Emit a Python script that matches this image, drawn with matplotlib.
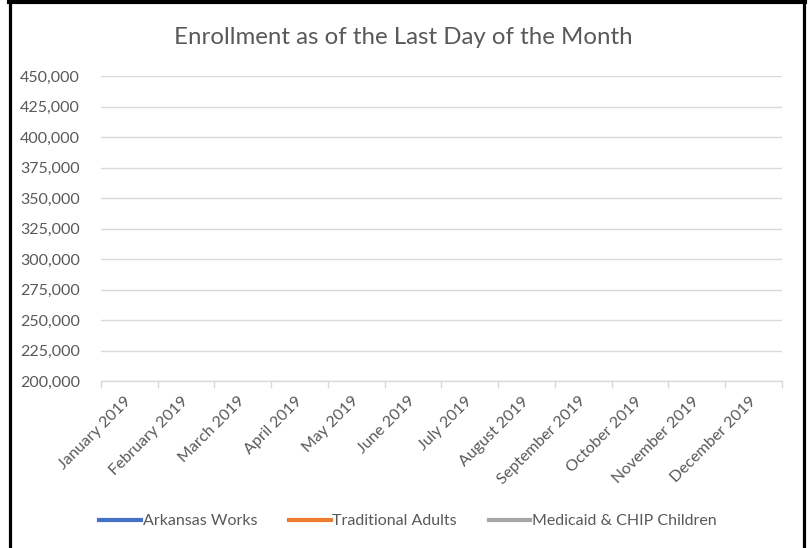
import numpy as np
import matplotlib
matplotlib.use("Agg")
import matplotlib.pyplot as plt
from matplotlib.lines import Line2D
from matplotlib.ticker import FuncFormatter, FixedLocator

# ── data ─────────────────────────────────────────────────────────────────────
months = ["January 2019", "February 2019", "March 2019", "April 2019",
          "May 2019", "June 2019", "July 2019", "August 2019",
          "September 2019", "October 2019", "November 2019", "December 2019"]

# no values are shown in the source chart — every month is blank
arkansas_works     = [np.nan] * 12
traditional_adults = [np.nan] * 12
medicaid_chip      = [np.nan] * 12

series_names  = ["Arkansas Works", "Traditional Adults", "Medicaid & CHIP Children"]
series_colors = ["#4472C4", "#ED7D31", "#A5A5A5"]

y_ticks = list(range(200000, 450001, 25000))

# ── style ────────────────────────────────────────────────────────────────────
plt.rcParams["font.family"] = ["Lato", "DejaVu Sans"]
TEXT = "#595959"
GRID = "#D9D9D9"

W, H = 809, 548
fig = plt.figure(figsize=(W / 100, H / 100), dpi=100)
fig.patch.set_facecolor("white")

ax = fig.add_axes([101 / W, 1 - 381 / H, (782 - 101) / W, (381 - 76) / H])

x = np.arange(len(months))
for vals, name, col in zip([arkansas_works, traditional_adults, medicaid_chip],
                           series_names, series_colors):
    ax.plot(x, vals, color=col, lw=2.25, label=name)

ax.set_xlim(-0.5, len(months) - 0.5)
ax.set_ylim(y_ticks[0], y_ticks[-1])
ax.set_yticks(y_ticks)
ax.yaxis.set_major_formatter(FuncFormatter(lambda v, _: f"{int(v):,}"))
ax.tick_params(axis="y", length=0, pad=15, labelsize=11.5, labelcolor=TEXT)
ax.grid(axis="y", color=GRID, lw=1)
ax.set_axisbelow(True)

# ticks on the category boundaries, labels at the centres
ax.xaxis.set_major_locator(FixedLocator(np.arange(-0.5, len(months), 1.0)))
ax.xaxis.set_major_formatter(FuncFormatter(lambda v, _: ""))
ax.xaxis.set_minor_locator(FixedLocator(x))
ax.set_xticklabels(months, minor=True, rotation=45, ha="right", va="center",
                   rotation_mode="anchor")
ax.tick_params(axis="x", which="major", length=5, color=GRID, width=1)
ax.tick_params(axis="x", which="minor", length=0, pad=13, labelsize=11.5,
               labelcolor=TEXT)

for side in ["top", "right", "left"]:
    ax.spines[side].set_visible(False)
ax.spines["bottom"].set_color(GRID)
ax.spines["bottom"].set_linewidth(1)

fig.text(403 / W, 1 - 38 / H, "Enrollment as of the Last Day of the Month",
         fontsize=17.3, color=TEXT, ha="center", va="center")

handles = [Line2D([], [], color=c, lw=3) for c in series_colors]
fig.legend(handles, series_names, loc="center", bbox_to_anchor=(408 / W, 1 - 521 / H),
           ncol=3, frameon=False, fontsize=11.5, labelcolor=TEXT,
           handlelength=2.6, handletextpad=0.1, columnspacing=2.0)

# outer frame of the original screenshot (top, left, right edges)
fig.add_artist(Line2D([9 / W, 805 / W], [1 - 2 / H, 1 - 2 / H],
                      transform=fig.transFigure, color="black", lw=3))
fig.add_artist(Line2D([10 / W, 10 / W], [0, 1 - 2 / H],
                      transform=fig.transFigure, color="black", lw=2.3))
fig.add_artist(Line2D([803.5 / W, 803.5 / W], [0, 1 - 2 / H],
                      transform=fig.transFigure, color="black", lw=2.3))

fig.savefig("out.png", dpi=100)
